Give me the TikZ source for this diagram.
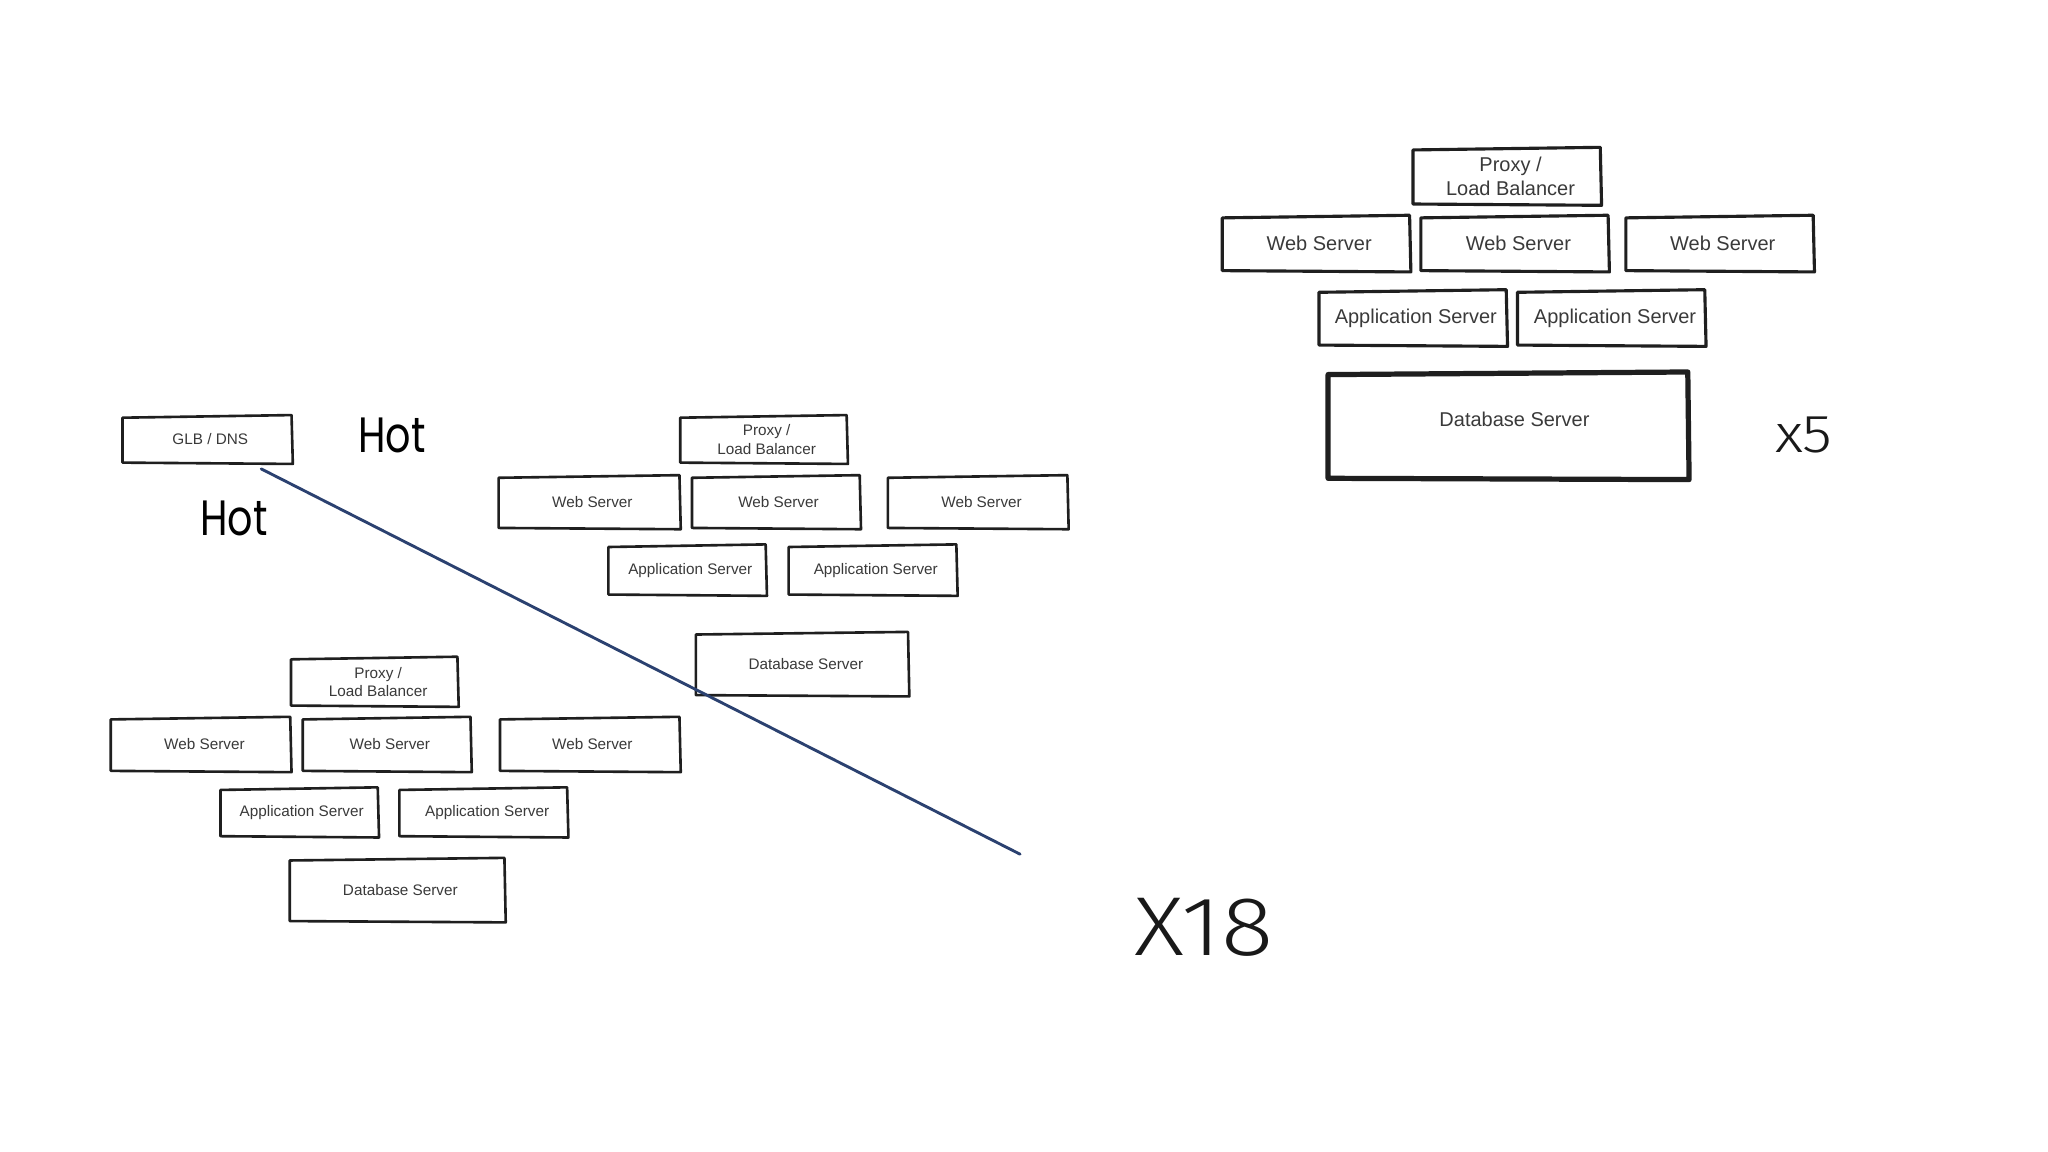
\documentclass[tikz,border=0pt]{standalone}
\usepackage{fontspec}
\setmainfont{Liberation Sans}
\newfontfamily\handfont{Poppins}
\newfontfamily\lightfont{Fira Sans Light}
\definecolor{textgray}{HTML}{3A3A3A}
\definecolor{slash}{HTML}{2B4170}
\newcommand\skbox[2][2pt]{%
  \draw[skline, line width=#1] ([shift={(0,1)}]#2.north west) -- ([shift={(0,-1)}]#2.north east)
     -- ([shift={(1,1)}]#2.south east) -- ([shift={(0,0)}]#2.south west) -- cycle;}
\begin{document}
\begin{tikzpicture}[x=1pt,y=-1pt,
  box/.style={draw=none, rectangle, inner sep=0pt, align=center, text=textgray,
    font=\fontsize{11.7}{14}\selectfont},
  bigbox/.style={box, font=\fontsize{15.3}{18}\selectfont},
  skline/.style={draw=black!88, line join=round, line cap=round},
  hot/.style={font=\handfont\fontsize{38}{40}\selectfont, xscale=0.8, inner sep=0pt},
  big/.style={font=\lightfont\fontsize{64}{66}\selectfont, xscale=1.16, inner sep=0pt, text=black!90},
]
\fill[white] (0,0) rectangle (1568,882);
\useasboundingbox (0,0) rectangle (1568,882);

% left / middle group
\node[box, minimum width=129pt, minimum height=35pt] (glb) at (158.5,336.5) {\hspace*{5pt}GLB / DNS};
\node[box, minimum width=127pt, minimum height=35pt] (mproxy) at (584.5,336.5) {\hspace*{5pt}Proxy /\\\hspace*{5pt}Load Balancer};
\node[box, minimum width=138pt, minimum height=39pt] (mweb1) at (451,384.5) {\hspace*{5pt}Web Server};
\node[box, minimum width=128pt, minimum height=39pt] (mweb2) at (594,384.5) {\hspace*{4pt}Web Server};
\node[box, minimum width=137pt, minimum height=39pt] (mweb3) at (748.5,384.5) {\hspace*{6pt}Web Server};
\node[box, minimum width=120pt, minimum height=37pt] (mapp1) at (526,436.5) {\hspace*{5pt}Application Server};
\node[box, minimum width=128pt, minimum height=37pt] (mapp2) at (668,436.5) {\hspace*{5pt}Application Server};
\node[box, minimum width=162pt, minimum height=47pt] (mdb) at (614,508.5) {\hspace*{6pt}Database Server};

% lower-left group
\node[box, minimum width=127pt, minimum height=36pt] (lproxy) at (286.5,522) {\hspace*{6pt}Proxy /\\\hspace*{6pt}Load Balancer};
\node[box, minimum width=137pt, minimum height=40pt] (lweb1) at (153.5,570) {\hspace*{6pt}Web Server};
\node[box, minimum width=128pt, minimum height=40pt] (lweb2) at (296,570) {\hspace*{5pt}Web Server};
\node[box, minimum width=137pt, minimum height=40pt] (lweb3) at (451.5,570) {\hspace*{4pt}Web Server};
\node[box, minimum width=120pt, minimum height=36pt] (lapp1) at (229,622) {\hspace*{4pt}Application Server};
\node[box, minimum width=128pt, minimum height=36pt] (lapp2) at (370,622) {\hspace*{6pt}Application Server};
\node[box, minimum width=164pt, minimum height=47pt] (ldb) at (304,681.5) {\hspace*{5pt}Database Server};

% right group
\node[bigbox, minimum width=143pt, minimum height=42pt] (rproxy) at (1153.5,135) {\hspace*{6pt}Proxy /\\\hspace*{6pt}Load Balancer};
\node[bigbox, minimum width=143pt, minimum height=41pt] (rweb1) at (1007.5,186.5) {\hspace*{5pt}Web Server};
\node[bigbox, minimum width=143pt, minimum height=41pt] (rweb2) at (1159.5,186.5) {\hspace*{6pt}Web Server};
\node[bigbox, minimum width=143pt, minimum height=41pt] (rweb3) at (1316.5,186.5) {\hspace*{5pt}Web Server};
\node[bigbox, minimum width=143pt, minimum height=41pt] (rapp1) at (1081.5,243.5) {\hspace*{5pt}Application Server};
\node[bigbox, minimum width=143pt, minimum height=41pt] (rapp2) at (1233.5,243.5) {\hspace*{6pt}Application Server};
\node[bigbox, minimum width=275pt, minimum height=80pt, text depth=10pt] (rdb) at (1154.5,326) {\hspace*{10pt}Database Server};

\foreach \n in {glb,mproxy,mweb1,mweb2,mweb3,mapp1,mapp2,mdb,lproxy,lweb1,lweb2,lweb3,lapp1,lapp2,ldb}{\skbox{\n}}
\foreach \n in {rproxy,rweb1,rweb2,rweb3,rapp1,rapp2}{\skbox[2.4pt]{\n}}
\skbox[4pt]{rdb}

% labels
\node[hot] (hot1) at (300,333) {Hot};
\node[hot] (hot2) at (179,397) {Hot};
\node[big] (x18) at (922,710) {X18};
\node[font=\lightfont\fontsize{41}{42}\selectfont, xscale=1.14, inner sep=0pt, text=black!90] (x5) at (1381,333) {x5};

% diagonal stroke
\coordinate (la) at (200,359);
\coordinate (lb) at (781,654);
\draw[slash, line width=2.2pt, line cap=round] (la) -- (lb);
\end{tikzpicture}
\end{document}
